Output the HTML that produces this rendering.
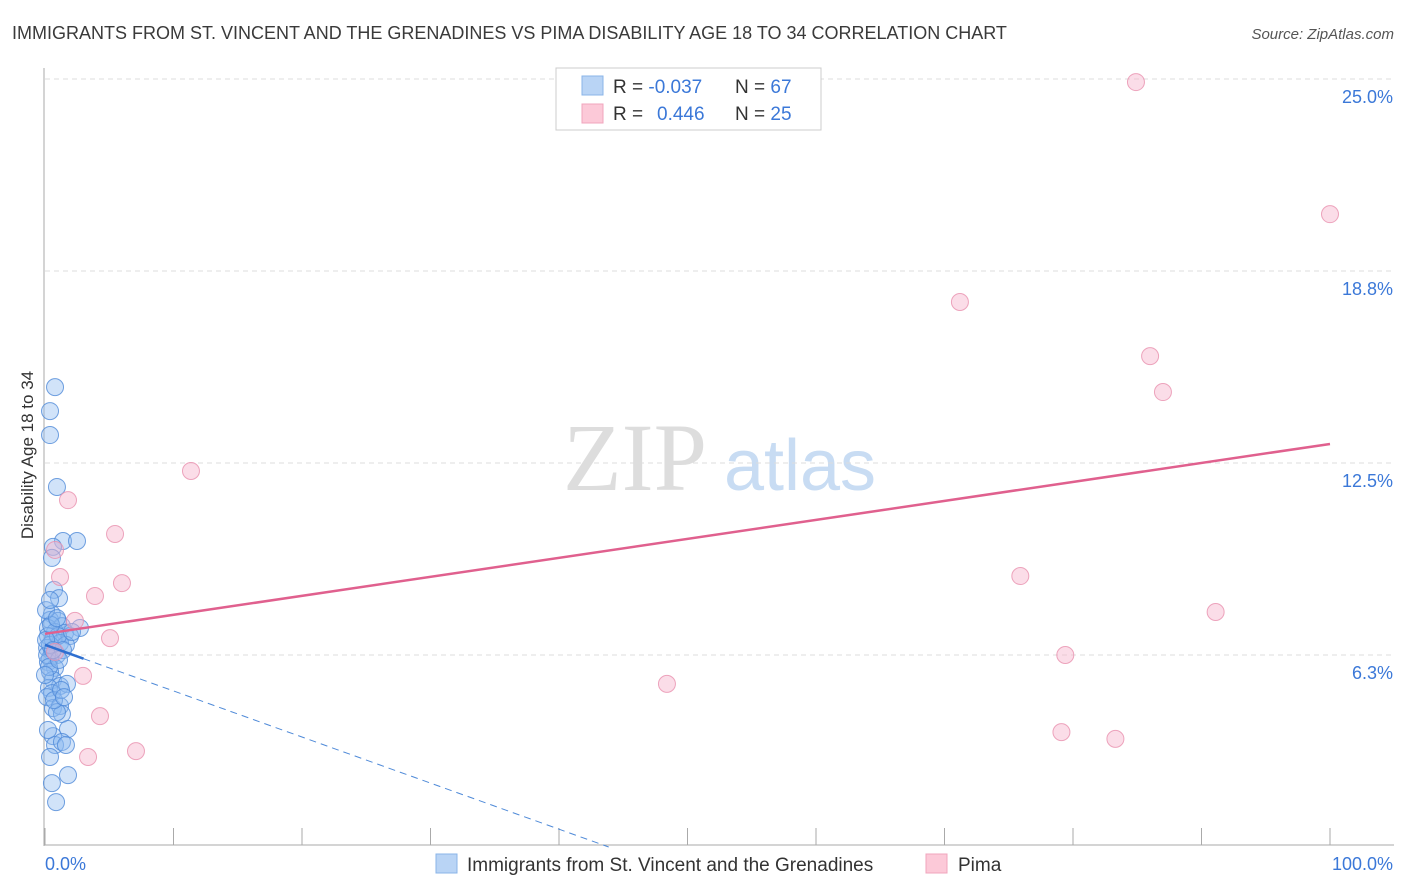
<!DOCTYPE html>
<html><head><meta charset="utf-8">
<style>
body{margin:0;background:#fff;font-family:"Liberation Sans",sans-serif;}
#wrap{position:relative;width:1406px;height:892px;overflow:hidden;}
</style></head>
<body><div id="wrap">
<svg id="svg" width="1406" height="892" xmlns="http://www.w3.org/2000/svg">
<text x="12" y="39" font-size="18" fill="#3a3a3a">IMMIGRANTS FROM ST. VINCENT AND THE GRENADINES VS PIMA DISABILITY AGE 18 TO 34 CORRELATION CHART</text>
<text x="1394" y="39" font-size="15" fill="#555" font-style="italic" text-anchor="end">Source: ZipAtlas.com</text>
<text x="33" y="455" font-size="17" fill="#333" text-anchor="middle" transform="rotate(-90 33 455)">Disability Age 18 to 34</text>
<g>
<text x="635" y="490" font-size="96" fill="#ddd" font-family="Liberation Serif,serif" text-anchor="middle">ZIP</text>
<text x="800" y="490" font-size="72" fill="#c8dcf3" text-anchor="middle">atlas</text>
</g>
<g id="grid"></g><g id="axes"></g><g id="marks"></g>
<g>
<rect x="556" y="68" width="265" height="62" fill="#fff" stroke="#ccc"/>
<rect x="582" y="76" width="21" height="19" fill="#b9d4f5" stroke="#8ab4e8"/>
<rect x="582" y="104" width="21" height="19" fill="#fcc9d8" stroke="#f0a5bd"/>
<text x="613" y="93" font-size="19" fill="#333">R = <tspan fill="#3b78d8">-0.037</tspan></text>
<text x="735" y="93" font-size="19" fill="#333">N = <tspan fill="#3b78d8">67</tspan></text>
<text x="613" y="120" font-size="19" fill="#333">R = <tspan fill="#3b78d8" x="657">0.446</tspan></text>
<text x="735" y="120" font-size="19" fill="#333">N = <tspan fill="#3b78d8">25</tspan></text>
</g>
<g>
<rect x="436" y="854" width="21" height="19" fill="#b9d4f5" stroke="#8ab4e8"/>
<text x="467" y="871" font-size="19" fill="#333">Immigrants from St. Vincent and the Grenadines</text>
<rect x="926" y="854" width="21" height="19" fill="#fcc9d8" stroke="#f0a5bd"/>
<text x="958" y="871" font-size="19" fill="#333">Pima</text>
</g>
</svg></div>
<script>
const yTicks=[6.25,12.5,18.75,25];
const yTickLabels=["6.3%","12.5%","18.8%","25.0%"];
const xTicks=[0,10,20,30,40,50,60,70,80,90,100];
const blueX=[0.78,0.39,0.39,0.93,1.40,2.49,0.62,0.54,0.70,1.09,0.54,0.39,1.01,1.32,0.23,0.78,1.56,2.72,1.95,0.23,0.62,1.17,1.63,0.16,0.54,0.93,0.39,0.23,0.78,0.39,0.62,1.17,1.71,0.31,0.54,0.16,0.62,1.17,1.32,0.93,1.79,0.62,0.78,1.32,0.39,0.54,1.79,0.86,0.16,0.39,1.01,0.08,1.40,2.10,0.31,0.70,1.09,0.47,0.08,1.25,0.23,1.63,0.62,0.00,0.93,0.39,1.48];
const blueY=[14.97,14.19,13.41,11.72,9.96,9.96,9.77,9.41,8.37,8.10,7.58,7.39,7.36,7.19,7.13,7.00,6.97,7.13,6.87,6.87,6.74,6.64,6.58,6.48,6.35,6.25,6.15,6.02,5.83,5.70,5.44,5.24,5.31,5.18,5.01,4.88,4.52,4.59,4.33,4.39,3.84,3.61,3.32,3.42,2.93,2.08,2.34,1.46,6.25,6.58,6.87,6.74,6.41,7.00,5.86,4.78,6.09,7.23,7.71,5.11,3.81,3.32,6.41,5.60,7.45,8.04,4.88];
const pinkX=[84.9,100,71.2,86.0,87.0,11.36,1.79,5.45,0.78,1.17,5.99,3.89,2.33,5.06,0.78,2.96,48.4,4.28,75.9,91.1,79.4,79.1,83.3,7.08,3.35];
const pinkY=[24.90,20.60,17.74,15.98,14.81,12.24,11.29,10.19,9.67,8.79,8.59,8.17,7.36,6.80,6.35,5.57,5.31,4.26,8.82,7.65,6.25,3.74,3.52,3.12,2.93];
const pinkTrend=[6.94,13.12];
const blueTrend=[6.58,-0.15];
const NS="http://www.w3.org/2000/svg";
const X=v=>45+v*12.85, Y=v=>847-v*30.72;
function mk(t,a,p){const e=document.createElementNS(NS,t);for(const k in a)e.setAttribute(k,a[k]);p.appendChild(e);return e;}
const grid=document.getElementById('grid'),axes=document.getElementById('axes'),marks=document.getElementById('marks');
yTicks.forEach((t,i)=>{
 const l=mk('line',{x1:45,x2:1394,y1:Y(t),y2:Y(t),stroke:'#ddd','stroke-dasharray':'5,4'},grid);
 
 
 const tx=mk('text',{x:1393,y:Y(t)+24,'font-size':18,fill:'#3b78d8','text-anchor':'end'},axes);
 tx.textContent=yTickLabels[i];
 
 
});
mk('line',{x1:44,x2:44,y1:68,y2:846,stroke:'#aaa'},axes);
mk('line',{x1:44,x2:1394,y1:845,y2:845,stroke:'#aaa'},axes);
xTicks.forEach(t=>{const l=mk('line',{x1:X(t),x2:X(t),y1:828,y2:845,stroke:'#aaa'},axes);
 
 });
const x0=mk('text',{x:45,y:870,'font-size':18,fill:'#3b78d8'},axes);x0.textContent='0.0%';


const x1=mk('text',{x:1393,y:870,'font-size':18,fill:'#3b78d8','text-anchor':'end'},axes);x1.textContent='100.0%';


blueX.forEach((x,i)=>{const c=mk('circle',{cx:X(x),cy:Y(blueY[i]),r:8.5,fill:'rgba(140,185,240,0.4)',stroke:'#4f8ad8','stroke-width':1,'stroke-opacity':0.8},marks);
 
 });
pinkX.forEach((x,i)=>{const c=mk('circle',{cx:X(x),cy:Y(pinkY[i]),r:8.5,fill:'rgba(247,180,204,0.45)',stroke:'#e890ae','stroke-width':1,'stroke-opacity':0.8},marks);
 
 });
const pl=mk('line',{x1:X(0),y1:Y(pinkTrend[0]),x2:X(100),y2:Y(pinkTrend[1]),stroke:'#e0608e','stroke-width':2.5},marks);


const bs=mk('line',{x1:X(0),y1:Y(blueTrend[0]),x2:X(3),y2:Y(blueTrend[0]+3*blueTrend[1]),stroke:'#2e6fd0','stroke-width':2.5},marks);


const xe=-blueTrend[0]/blueTrend[1];
const bd=mk('line',{x1:X(3),y1:Y(blueTrend[0]+3*blueTrend[1]),x2:X(xe),y2:Y(0),stroke:'#4f8ad8','stroke-width':1,'stroke-dasharray':'7,5'},marks);


</script>
</body></html>
